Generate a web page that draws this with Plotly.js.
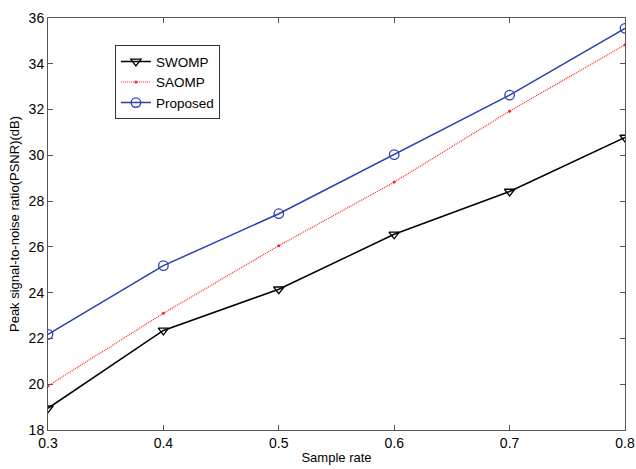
<!DOCTYPE html>
<html>
<head>
<meta charset="utf-8">
<script src="https://cdn.plot.ly/plotly-3.0.1.min.js"></script>
<style>html,body{margin:0;padding:0;background:#fff;}#chart{width:636px;height:469px;}</style>
</head>
<body>
<div id="chart"></div>
<script>
const sampleRate = [0.3, 0.4, 0.5, 0.6, 0.7, 0.8];
const swomp = [18.95, 22.35, 24.15, 26.55, 28.42, 30.78];
const saomp = [19.93, 23.1, 26.05, 28.83, 31.93, 34.83];
const proposed = [22.18, 25.18, 27.45, 30.03, 32.63, 35.55];
const xTicks = [0.3, 0.4, 0.5, 0.6, 0.7, 0.8];
const yTicks = [18, 20, 22, 24, 26, 28, 30, 32, 34, 36];

const fam = 'Liberation Sans, Arial, sans-serif';
const tickFont = {family: fam, size: 14, color: '#000'};
const titleFont = {family: fam, size: 13, color: '#000'};
const legendFont = {family: fam, size: 13.5, color: '#000'};

const traces = [
  {x: sampleRate, y: swomp, name: 'SWOMP', mode: 'lines+markers',
   line: {color: '#000', width: 1.5},
   marker: {symbol: 'triangle-down-open', size: 9, color: '#000', line: {width: 1.3}}},
  {x: sampleRate, y: saomp, name: 'SAOMP', mode: 'lines+markers',
   line: {color: '#ff2020', width: 1.2, dash: '1px,1px'},
   marker: {symbol: 'circle', size: 3, color: '#ff2020'}},
  {x: sampleRate, y: proposed, name: 'Proposed', mode: 'lines+markers',
   line: {color: '#2b3fb0', width: 1.5},
   marker: {symbol: 'circle-open', size: 9.5, color: '#2b3fb0', line: {width: 1.3}}}
];

const axisCommon = {
  showgrid: false, zeroline: false, showline: true, linecolor: '#555', linewidth: 1,
  mirror: 'ticks', ticks: 'inside', ticklen: 5, tickcolor: '#555', tickwidth: 1,
  tickfont: tickFont
};

const layout = {
  width: 636, height: 469,
  margin: {l: 48, r: 11, t: 18, b: 39},
  paper_bgcolor: '#fff', plot_bgcolor: '#fff',
  font: tickFont,
  showlegend: true,
  xaxis: Object.assign({}, axisCommon, {
    range: [0.3, 0.8], tickvals: xTicks, ticktext: xTicks.map(v => v.toFixed(1)),
    title: {text: 'Sample rate', font: titleFont, standoff: 3}
  }),
  yaxis: Object.assign({}, axisCommon, {
    range: [18, 36], tickvals: yTicks, ticktext: yTicks.map(String),
    title: {text: 'Peak signal-to-noise ratio(PSNR)(dB)', font: titleFont, standoff: 6}
  }),
  legend: {
    x: 0.116, y: 0.934, xanchor: 'left', yanchor: 'top',
    bgcolor: '#fff', bordercolor: '#333', borderwidth: 1,
    font: legendFont, tracegroupgap: 0, itemwidth: 30
  }
};

Plotly.newPlot('chart', traces, layout, {displayModeBar: false, staticPlot: true});
</script>
</body>
</html>
